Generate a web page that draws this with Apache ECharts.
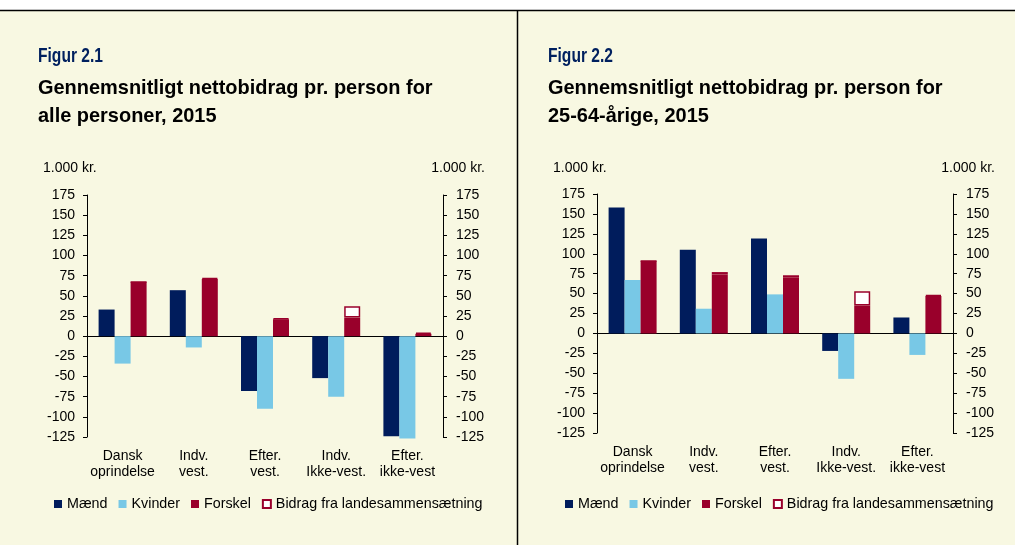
<!DOCTYPE html>
<html>
<head>
<meta charset="utf-8">
<title>Nettobidrag pr. person</title>
<script src="https://cdn.jsdelivr.net/npm/echarts@6/dist/echarts.min.js"></script>
<style>
html, body { margin: 0; padding: 0; background: #f8f8e2; }
#main { width: 1015px; height: 545px; }
</style>
</head>
<body>
<div id="main"></div>
<script>
// kategorier og forklaring
var categories = ["Dansk\noprindelse", "Indv.\nvest.", "Efter.\nvest.", "Indv.\nIkke-vest.", "Efter.\nikke-vest"];
var legendNames = ["Mænd", "Kvinder", "Forskel", "Bidrag fra landesammensætning"];

// akse: 1.000 kr.
var axisMin = -125;
var axisMax = 175;
var axisStep = 25;

// Figur 2.1 - alle personer
var maend1 = [33, 57, -68, -52, -124];
var kvinder1 = [-34, -14, -90, -75, -127];
var forskel1 = [67, 71, 21, 23, 3];
var bidrag1 = [0, 1, 1, 14, 1.5];

// Figur 2.2 - 25-64-årige
var maend2 = [158, 105, 119, -22, 20];
var kvinder2 = [67, 31, 49, -57, -27];
var forskel2 = [91, 74, 70, 35, 47];
var bidrag2 = [0, 3, 3, 18, 1];

var FONT = '"Liberation Sans", Arial, sans-serif';
var NAVY = "#001c5c";
var LIGHT = "#78c8e6";
var RED = "#99002b";

var chart = echarts.init(document.getElementById('main'));

function valueAxis(grid, pos){
	return {
		type : "value",
		gridIndex : grid,
		position : pos,
		min : axisMin,
		max : axisMax,
		interval : axisStep,
		axisLine : { show : true, lineStyle : { color : "#000", width : 1 } },
		axisTick : { show : true, length : 4, lineStyle : { color : "#000" } },
		axisLabel : { margin : pos == "left" ? 12 : 13, fontSize : 14, color : "#000", fontFamily : FONT },
		splitLine : { show : false }
	};
}

// x-akse ved nul (streg + tick) og en ved bunden (tekst)
function zeroAxis(grid){
	return {
		type : "category",
		gridIndex : grid,
		data : categories,
		position : "bottom",
		axisLine : { onZero : true, lineStyle : { color : "#000", width : 1 } },
		axisTick : { length : 5, lineStyle : { color : "#000" } },
		axisLabel : { show : false }
	};
}
function labelAxis(grid){
	return {
		type : "category",
		gridIndex : grid,
		data : categories,
		position : "bottom",
		axisLine : { show : false, onZero : false },
		axisTick : { show : false },
		axisLabel : { margin : 11, fontSize : 14, lineHeight : 16, color : "#000", fontFamily : FONT, interval : 0 }
	};
}

function barSeries(name, data, xi, yi, color, extra){
	var s = {
		name : name,
		type : "bar",
		xAxisIndex : xi,
		yAxisIndex : yi,
		data : data,
		barWidth : 16,
		barGap : "0%",
		clip : false,
		itemStyle : { color : color },
		emphasis : { disabled : true }
	};
	if(extra){
		for(var k in extra){ s[k] = extra[k]; }
	}
	return s;
}

function seriesFor(xi, yi, m, k, f, b){
	return [
		barSeries(legendNames[0], m, xi, yi, NAVY),
		barSeries(legendNames[1], k, xi, yi, LIGHT),
		barSeries(legendNames[2], f, xi, yi, RED, { stack : "f" + xi }),
		barSeries(legendNames[3], b, xi, yi, "#ffffff", {
			stack : "f" + xi,
			itemStyle : { color : "#ffffff", borderColor : RED, borderWidth : 1.5 }
		})
	];
}

function legendAt(left){
	return {
		left : left,
		top : 497,
		padding : 0,
		icon : "rect",
		itemWidth : 8,
		itemHeight : 8,
		itemGap : 11,
		selectedMode : false,
		textStyle : { fontSize : 14.3, color : "#000", fontFamily : FONT },
		data : legendNames
	};
}

// tekst; sx giver smallere skrift som i originalen
function txt(x, y, text, size, bold, color, align, sx){
	return {
		type : "text",
		x : x,
		y : y,
		scaleX : sx || 1,
		style : {
			text : text,
			fontSize : size,
			fontWeight : bold ? "bold" : "normal",
			fontFamily : FONT,
			fill : color,
			align : align || "left",
			verticalAlign : "middle"
		}
	};
}

var option = {
	backgroundColor : "#f8f8e2",
	animation : false,
	grid : [
		{ left : 87, top : 195, width : 356, height : 242 },
		{ left : 597, top : 194, width : 356, height : 239 }
	],
	xAxis : [zeroAxis(0), labelAxis(0), zeroAxis(1), labelAxis(1)],
	yAxis : [valueAxis(0, "left"), valueAxis(0, "right"), valueAxis(1, "left"), valueAxis(1, "right")],
	legend : [legendAt(54), legendAt(565)],
	series : seriesFor(0, 0, maend1, kvinder1, forskel1, bidrag1)
		.concat(seriesFor(2, 2, maend2, kvinder2, forskel2, bidrag2)),
	graphic : [
		{ type : "rect", shape : { x : 0, y : 0, width : 1015, height : 10 }, style : { fill : "#ffffff" } },
		{ type : "line", shape : { x1 : 0, y1 : 10.5, x2 : 1015, y2 : 10.5 }, style : { stroke : "#000", lineWidth : 1.5 } },
		{ type : "line", shape : { x1 : 517.5, y1 : 10, x2 : 517.5, y2 : 545 }, style : { stroke : "#000", lineWidth : 1.5 } },
		txt(38, 57, "Figur 2.1", 19.5, true, "#00205f", "left", 0.8),
		txt(38, 88, "Gennemsnitligt nettobidrag pr. person for", 21, true, "#000", "left", 0.95),
		txt(38, 116, "alle personer, 2015", 21, true, "#000", "left", 0.95),
		txt(548, 57, "Figur 2.2", 19.5, true, "#00205f", "left", 0.8),
		txt(548, 88, "Gennemsnitligt nettobidrag pr. person for", 21, true, "#000", "left", 0.95),
		txt(548, 116, "25-64-årige, 2015", 21, true, "#000", "left", 0.95),
		txt(43, 168, "1.000 kr.", 14, false, "#000"),
		txt(485, 168, "1.000 kr.", 14, false, "#000", "right"),
		txt(553, 168, "1.000 kr.", 14, false, "#000"),
		txt(995, 168, "1.000 kr.", 14, false, "#000", "right")
	]
};
chart.setOption(option);
</script>
</body>
</html>
